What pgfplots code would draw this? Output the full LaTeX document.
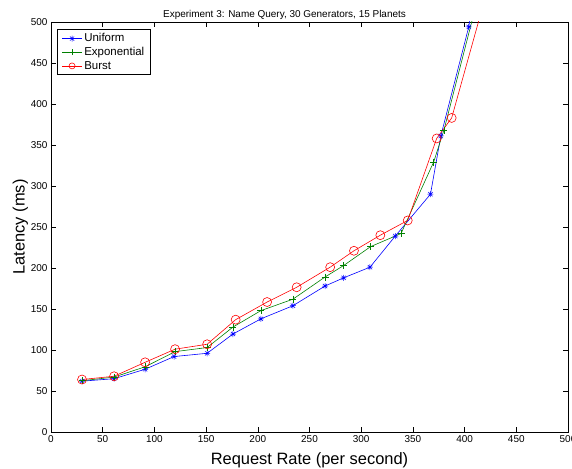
\documentclass[border=0pt]{standalone}
\usepackage{fontspec}
\setmainfont{Liberation Sans}
\usepackage{pgfplots}
\pgfplotsset{compat=1.18}
\definecolor{mgreen}{rgb}{0,0.5,0}
\pgfdeclareplotmark{mast}{%
 \pgfpathmoveto{\pgfqpoint{-\pgfplotmarksize}{0pt}}\pgfpathlineto{\pgfqpoint{\pgfplotmarksize}{0pt}}%
 \pgfpathmoveto{\pgfqpoint{0pt}{-\pgfplotmarksize}}\pgfpathlineto{\pgfqpoint{0pt}{\pgfplotmarksize}}%
 \pgfpathmoveto{\pgfqpoint{-.707\pgfplotmarksize}{-.707\pgfplotmarksize}}\pgfpathlineto{\pgfqpoint{.707\pgfplotmarksize}{.707\pgfplotmarksize}}%
 \pgfpathmoveto{\pgfqpoint{-.707\pgfplotmarksize}{.707\pgfplotmarksize}}\pgfpathlineto{\pgfqpoint{.707\pgfplotmarksize}{-.707\pgfplotmarksize}}%
 \pgfusepathqstroke}
\begin{document}
\begin{tikzpicture}
\begin{axis}[name=ax, at={(0,0)}, anchor=south west, scale only axis,
  width=517bp, height=410bp,
  xmin=0, xmax=500, ymin=0, ymax=500,
  xtick={0,50,...,500}, ytick={0,50,...,500},
  tick align=inside, major tick length=5bp,
  tick style={black, line width=0.5pt},
  axis line style={line width=0.8pt},
  /pgf/number format/assume math mode=true,
  ticklabel style={font=\fontsize{10}{12}\selectfont},
  xlabel={Request Rate (per second)},
  ylabel={Latency (ms)},
  label style={font=\fontsize{16.5}{19}\selectfont},
  xlabel style={yshift=-3bp},
  ylabel style={yshift=-4bp},
  title={Experiment 3: Name Query, 30 Generators, 15 Planets},
  title style={font=\fontsize{10}{12}\selectfont, yshift=-7bp, xshift=-25bp},
  legend style={at={(0.0125,0.982)}, anchor=north west, draw=black, line width=0.6pt,
    font=\fontsize{11.5}{12}\selectfont, inner xsep=4bp, inner ysep=2bp, row sep=0bp},
  legend image code/.code={\draw[mark repeat=2,mark phase=2,mark size=3bp] plot coordinates {(0bp,0bp)(10bp,0bp)(20bp,0bp)};},
  legend cell align=left,
  every axis plot/.append style={line width=0.6pt},
]
\addplot[blue, mark=mast, mark size=3bp, mark options={line width=0.5pt}] coordinates {
(30,62) (61,65) (91,76.5) (119,92) (151,96) (176,119.5) (203,138) (234,154) (265,178) (283,188)
(308.5,201) (333,239) (367,290) (377,361) (404,494) (410,540)};
\addlegendentry{Uniform}
\addplot[mgreen, mark=+, mark size=3.5bp, mark options={line width=0.6pt}] coordinates {
(30,62.5) (61,67) (91,79.5) (120,98) (151,103) (176,128) (203,148) (234,162) (265,189) (283,203)
(309,226) (338.5,242) (370,329) (380,368) (415,540)};
\addlegendentry{Exponential}
\addplot[red, mark=o, mark size=4.5bp, mark options={line width=0.6pt}] coordinates {
(30,64) (61,68) (91,85) (120,101) (151,107) (178.6,137) (209,158.5) (237.6,176.5) (270,201) (293,221)
(318.5,240) (345,258) (373,358) (387.5,383) (420,530)};
\addlegendentry{Burst}
\end{axis}
\pgfresetboundingbox
\path[use as bounding box] ([shift={(-51bp,-37bp)}]ax.south west) rectangle ([shift={(4bp,22bp)}]ax.north east);
\end{tikzpicture}
\end{document}
